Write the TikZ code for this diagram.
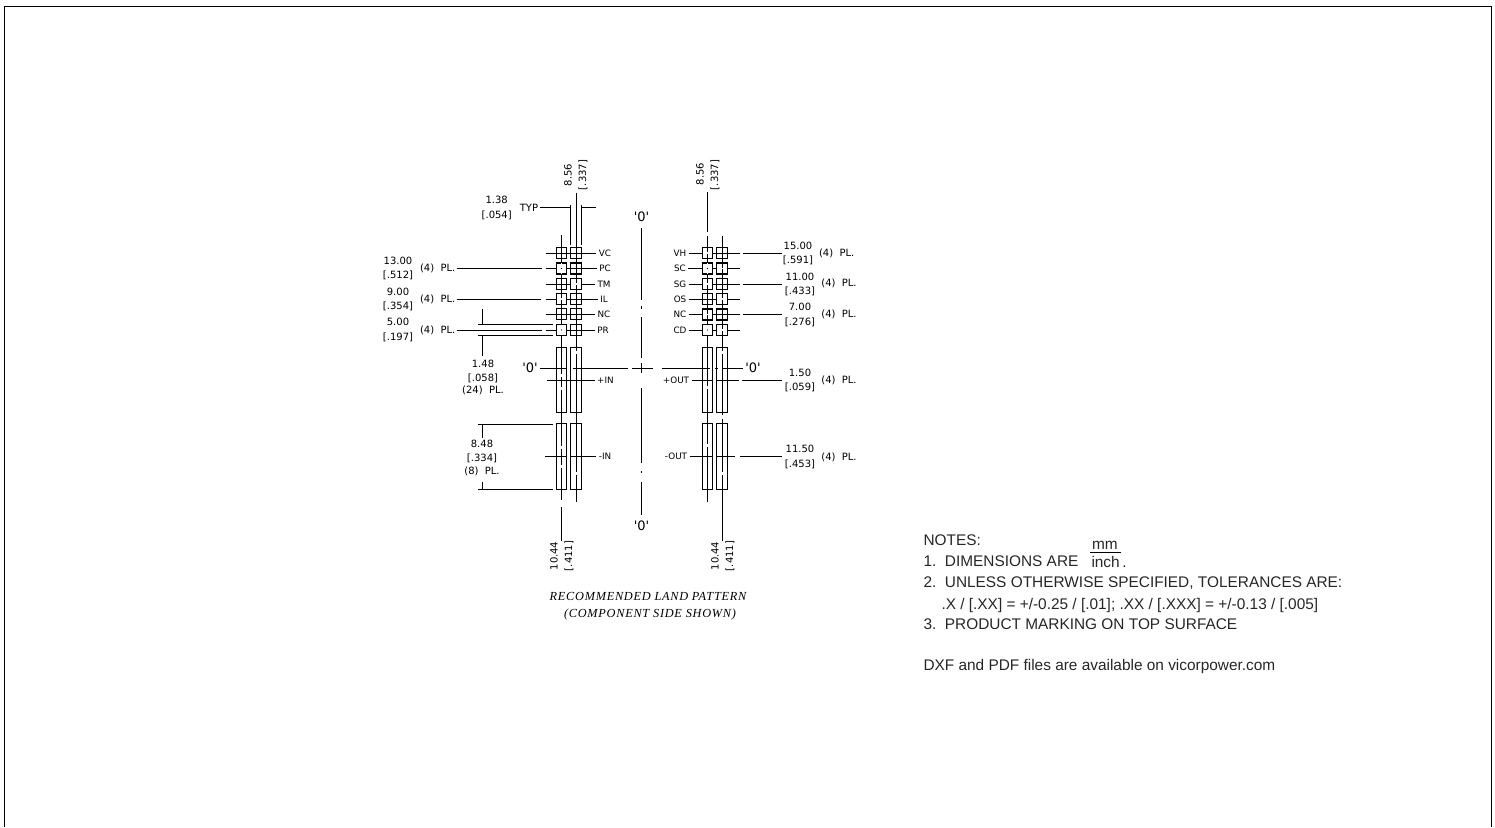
\documentclass[tikz,border=0pt]{standalone}
\usepackage{fontspec}
\usepackage{tikz}
\usetikzlibrary{positioning}
\newfontfamily\cadfont{DejaVu Sans}
\newfontfamily\notefont{Liberation Sans}
\newfontfamily\titlefont[LetterSpace=6]{Liberation Serif}
\tikzset{
    padbox/.style={draw, line width=1.15pt, minimum width=10pt, minimum height=11pt, inner sep=0pt},
    padlong/.style={draw, line width=1.15pt, minimum width=10pt, minimum height=65.5pt, inner sep=0pt},
    padgap/.style={draw=white, line width=1.8pt},
    pinlabel/.style={font=\cadfont\fontsize{8.8}{10}\selectfont, inner sep=2pt},
    cadtext/.style={font=\cadfont\fontsize{10}{11}\selectfont, inner sep=1pt},
    originmark/.style={font=\cadfont\fontsize{13}{14}\selectfont, inner sep=2pt},
    notetext/.style={font=\notefont\fontsize{15.4}{17}\selectfont, anchor=base west, inner sep=0pt, text=black!85},
    landtitle/.style={font=\titlefont\itshape\fontsize{12.3}{13}\selectfont, inner sep=0pt}
}
\begin{document}
\begin{tikzpicture}[x=1pt, y=-1pt, line width=1pt]
    \useasboundingbox (0, 0) rectangle (1495, 827);
    \draw (4, 827) -- (4, 6.5) -- (1491, 6.5) -- (1491, 827);

    \draw (561.5, 235) -- (561.5, 500) (561.5, 507) -- (561.5, 540.5);
    \draw (576, 193) -- (576, 502);
    \draw (570.5, 205) -- (570.5, 245);
    \draw (581, 205) -- (581, 245);
    \draw (707.5, 192) -- (707.5, 232) (707.5, 236) -- (707.5, 502);
    \draw (722, 236) -- (722, 415) (722, 419) -- (722, 540.5);
    \draw (641.5, 228) -- (641.5, 300) (641.5, 306) -- (641.5, 309) (641.5, 317) -- (641.5, 358)
        (641.5, 363) -- (641.5, 373) (641.5, 388) -- (641.5, 463) (641.5, 471) -- (641.5, 473) (641.5, 482) -- (641.5, 515);
    \draw (540, 368.5) -- (566, 368.5) (573, 368.5) -- (628, 368.5) (632, 368.5) -- (653, 368.5)
        (662, 368.5) -- (710, 368.5) (715, 368.5) -- (718, 368.5) (722, 368.5) -- (743, 368.5);

    \foreach \name/\ypos/\txt/\lx in {vc/253/VC/605, pc/268.5/PC/605, tm/284/TM/604, il/299/IL/604, nl/314/NC/604, pr/330/PR/603} {
        \node[padbox] (\name a) at (561.5, \ypos) {};
        \node[padbox, minimum width=10.5pt] (\name b) at (576, \ypos) {};
        \node[pinlabel] (\name t) at (\lx, \ypos) {\txt};
        \coordinate (\name s) at (545.5, \ypos);
        \draw (\name s) -- (\name t);
    }
    \foreach \name/\ypos/\txt in {vh/253/VH, sc/268.5/SC, sg/284/SG, os/299/OS, nr/314.5/NC, cd/330/CD} {
        \node[padbox] (\name a) at (707.5, \ypos) {};
        \node[padbox, minimum width=10.5pt] (\name b) at (722, \ypos) {};
        \node[pinlabel] (\name t) at (680, \ypos) {\txt};
        \coordinate (\name s) at (739.5, \ypos);
        \draw (\name t) -- (\name s);
    }
    \node[padlong] (ipa) at (561.5, 380) {};
    \node[padlong, minimum width=10.5pt] (ipb) at (576, 380) {};
    \node[padlong] (ina) at (561.5, 456.5) {};
    \node[padlong, minimum width=10.5pt] (inb) at (576, 456.5) {};
    \node[padlong] (opa) at (707.5, 380) {};
    \node[padlong, minimum width=10.5pt] (opb) at (722, 380) {};
    \node[padlong] (ona) at (707.5, 456.5) {};
    \node[padlong, minimum width=10.5pt] (onb) at (722, 456.5) {};

    \node[pinlabel] (ipt) at (605.5, 380) {+IN};
    \node[pinlabel] (int) at (605, 456.5) {-IN};
    \node[pinlabel] (opt) at (676, 380.5) {+OUT};
    \node[pinlabel] (ont) at (676, 456.5) {-OUT};
    \coordinate (ips) at (546.5, 380);
    \coordinate (ins) at (545, 456.5);
    \coordinate (ops) at (739, 380.5);
    \coordinate (ons) at (735, 456.5);
    \draw (ips) -- (ipt);
    \draw (ins) -- (int);
    \draw (opt) -- (ops);
    \draw (ont) -- (ons);

    \foreach \p in {tmb, ila, vha, sga, nra, osb, scb, cdb} {
        \draw[padgap, shorten >=1pt, shorten <=1pt] (\p.west) -- (\p.east);
    }
    \foreach \p in {pca, pra, sca, cda} {
        \draw[padgap, shorten >=1pt, shorten <=1pt] (\p.west) -- (\p.east);
        \draw[padgap, shorten >=1pt, shorten <=1pt] (\p.north) -- (\p.south);
        \fill (\p.center) circle (0.6);
    }
    \foreach \gx/\gy in {561.5/375, 561.5/388, 561.5/447, 561.5/466, 576/352, 576/473, 707.5/387, 707.5/445, 722/352, 722/473} {
        \draw[padgap] (\gx, \gy-1.5) -- (\gx, \gy+1.5);
    }
    \foreach \gx/\gy in {568.5/456.5, 714/380.5, 714/456.5} {
        \draw[padgap] (\gx-1.5, \gy) -- (\gx+1.5, \gy);
    }

    \node[cadtext] (hpc) at (437.7, 268.5) {(4)\ \ PL.};
    \node[cadtext] (hil) at (437.7, 299) {(4)\ \ PL.};
    \node[cadtext] (hpr) at (437.7, 330) {(4)\ \ PL.};
    \coordinate (epc) at (541.7, 268.5);
    \coordinate (eil) at (541, 299);
    \coordinate (epr) at (541.7, 330);
    \draw (hpc) -- (epc);
    \draw (hil) -- (eil);
    \draw (hpr) -- (epr);
    \node[cadtext] (t13) at (398, 261) {13.00};
    \node[cadtext] (b13) at (398, 275.7) {[.512]};
    \node[cadtext] (t9) at (398, 291.7) {9.00};
    \node[cadtext] (b9) at (398, 306.7) {[.354]};
    \node[cadtext] (t5) at (398, 322) {5.00};
    \node[cadtext] (b5) at (398, 337) {[.197]};

    \node[cadtext] (t138) at (496.7, 200) {1.38};
    \node[cadtext] (b138) at (496.7, 215.7) {[.054]};
    \node[cadtext] (typ) at (529, 207.5) {TYP};
    \coordinate (typa) at (570.5, 207.5);
    \coordinate (typb) at (581, 207.5);
    \coordinate (typc) at (596, 207.5);
    \draw (typ) -- (typa);
    \draw (typb) -- (typc);
    \node[cadtext, rotate=90] (tl856) at (568, 175) {8.56};
    \node[cadtext, rotate=90] (bl856) at (583, 175) {[.337]};
    \node[cadtext, rotate=90] (tr856) at (700, 174) {8.56};
    \node[cadtext, rotate=90] (br856) at (715, 175) {[.337]};
    \node[cadtext, rotate=90] (tl1044) at (554, 556) {10.44};
    \node[cadtext, rotate=90] (bl1044) at (569, 556) {[.411]};
    \node[cadtext, rotate=90] (tr1044) at (715, 556) {10.44};
    \node[cadtext, rotate=90] (br1044) at (730, 556) {[.411]};

    \coordinate (ux) at (478, 324.5);
    \coordinate (uy) at (552.5, 324.5);
    \coordinate (vx) at (478, 335.5);
    \coordinate (vy) at (552.5, 335.5);
    \coordinate (wx) at (478, 424.5);
    \coordinate (wy) at (552.5, 424.5);
    \coordinate (zx) at (478, 489.5);
    \coordinate (zy) at (552.5, 489.5);
    \draw (ux) -- (uy);
    \draw (vx) -- (vy);
    \draw (wx) -- (wy);
    \draw (zx) -- (zy);
    \draw (482.5, 309) -- (482.5, 324.5) (482.5, 335.5) -- (482.5, 356);
    \draw (482.5, 424.5) -- (482.5, 438) (482.5, 481.7) -- (482.5, 489.5);
    \node[cadtext] (t148) at (483, 363.5) {1.48};
    \node[cadtext] (b148) at (483, 378) {[.058]};
    \node[cadtext] (p148) at (483, 390) {(24)\ \ PL.};
    \node[cadtext] (t848) at (482, 444) {8.48};
    \node[cadtext] (b848) at (482, 458) {[.334]};
    \node[cadtext] (p848) at (482, 471) {(8)\ \ PL.};

    \node[cadtext] (t15) at (798, 246) {15.00};
    \node[cadtext] (b15) at (798, 260.7) {[.591]};
    \node[cadtext] (p15) at (836.7, 253) {(4)\ \ PL.};
    \node[cadtext] (t11) at (800, 276.7) {11.00};
    \node[cadtext] (b11) at (800, 291) {[.433]};
    \node[cadtext] (p11) at (839, 283) {(4)\ \ PL.};
    \node[cadtext] (t7) at (800, 306.7) {7.00};
    \node[cadtext] (b7) at (800, 322) {[.276]};
    \node[cadtext] (p7) at (839, 314) {(4)\ \ PL.};
    \node[cadtext] (t150) at (800, 372.7) {1.50};
    \node[cadtext] (b150) at (800, 387.3) {[.059]};
    \node[cadtext] (p150) at (839, 380) {(4)\ \ PL.};
    \node[cadtext] (t1150) at (800, 449) {11.50};
    \node[cadtext] (b1150) at (800, 464) {[.453]};
    \node[cadtext] (p1150) at (839, 457) {(4)\ \ PL.};
    \foreach \name/\xa/\ypos in {vh/743/253, sg/743/284, nr/743/314.5, op/742/380.5, on/740/456.5} {
        \coordinate (\name l) at (\xa, \ypos);
        \coordinate (\name m) at (782, \ypos);
        \draw (\name l) -- (\name m);
    }

    \node[originmark] (otop) at (641.5, 217) {'0'};
    \node[originmark] (obot) at (641.5, 526) {'0'};
    \node[originmark] (oleft) at (530, 367.5) {'0'};
    \node[originmark] (oright) at (753, 368) {'0'};

    \node[landtitle] (title) at (648, 596) {RECOMMENDED LAND PATTERN};
    \node[landtitle] (subtitle) at (650, 615) {(COMPONENT SIDE SHOWN)};

    \node[notetext] (notes) at (923, 545) {NOTES:};
    \node[notetext] (note1) at (923, 566.5) {1.\ \ DIMENSIONS ARE};
    \node[notetext] (mm) at (1091.5, 549.5) {mm};
    \node[notetext] (inch) at (1091, 567.5) {inch\,.};
    \draw (1090, 552) -- (1120.5, 552);
    \node[notetext] (note2) at (923, 587) {2.\ \ UNLESS OTHERWISE SPECIFIED, TOLERANCES ARE:};
    \node[notetext] (note2b) at (941, 609.5) {.X / [.XX] = +/-0.25 / [.01]; .XX / [.XXX] = +/-0.13 / [.005]};
    \node[notetext] (note3) at (923, 629) {3.\ \ PRODUCT MARKING ON TOP SURFACE};
    \node[notetext] (dxf) at (923, 670) {DXF and PDF files are available on vicorpower.com};
\end{tikzpicture}
\end{document}
